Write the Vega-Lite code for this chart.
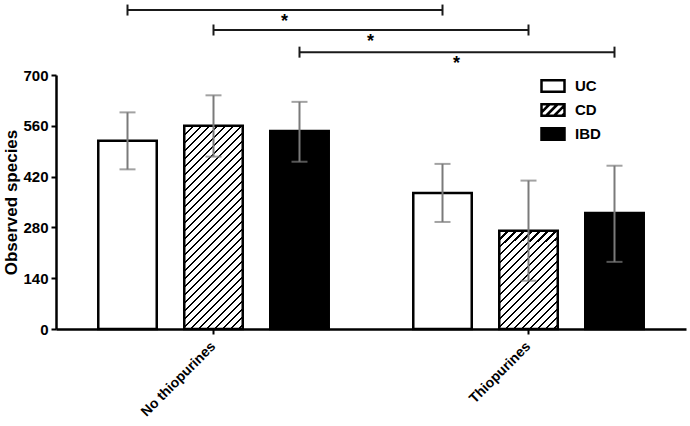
{
  "$schema": "https://vega.github.io/schema/vega-lite/v6.json",
  "autosize": {"type": "none"},
  "width": 630,
  "height": 254,
  "padding": {"left": 56, "top": 75, "right": 4, "bottom": 97},
  "background": "white",
  "config": {
    "view": {"stroke": null},
    "font": "Liberation Sans",
    "axis": {"grid": false, "domainColor": "black", "domainWidth": 2.5, "tickColor": "black", "tickWidth": 2, "tickSize": 5, "labelColor": "black", "labelFont": "Liberation Sans", "labelFontWeight": "bold", "titleFont": "Liberation Sans", "titleFontWeight": "bold", "titleColor": "black"},
    "legend": {"labelFont": "Liberation Sans", "labelFontWeight": "bold", "labelFontSize": 15, "labelColor": "black"}
  },
  "datasets": {
    "bars": [
      {"group": "No thiopurines", "sub": "UC", "value": 519, "lo": 440, "hi": 597},
      {"group": "No thiopurines", "sub": "CD", "value": 560, "lo": 475, "hi": 644},
      {"group": "No thiopurines", "sub": "IBD", "value": 546, "lo": 461, "hi": 626},
      {"group": "Thiopurines", "sub": "UC", "value": 375, "lo": 295, "hi": 455},
      {"group": "Thiopurines", "sub": "CD", "value": 271, "lo": 133, "hi": 409},
      {"group": "Thiopurines", "sub": "IBD", "value": 320, "lo": 185, "hi": 450}
    ],
    "sig": [
      {"comp": "UC", "group": "No thiopurines", "sub": "UC", "level": 879},
      {"comp": "UC", "group": "Thiopurines", "sub": "UC", "level": 879},
      {"comp": "CD", "group": "No thiopurines", "sub": "CD", "level": 824},
      {"comp": "CD", "group": "Thiopurines", "sub": "CD", "level": 824},
      {"comp": "IBD", "group": "No thiopurines", "sub": "IBD", "level": 763},
      {"comp": "IBD", "group": "Thiopurines", "sub": "IBD", "level": 763}
    ]
  },
  "layer": [
    {
      "data": {"name": "bars"},
      "mark": {"type": "bar", "stroke": "black", "strokeWidth": 2.5, "strokeJoin": "miter"},
      "encoding": {
        "x": {"field": "group", "type": "nominal", "sort": ["No thiopurines", "Thiopurines"],
              "scale": {"paddingInner": 0.181, "paddingOuter": 0.0905},
              "axis": {"title": null, "labelAngle": -45, "labelAlign": "right", "labelBaseline": "middle", "labelFontSize": 14, "labelPadding": 10}},
        "xOffset": {"field": "sub", "type": "nominal", "sort": ["UC", "CD", "IBD"],
              "scale": {"domain": ["UC", "CD", "IBD"], "paddingInner": 0.32, "paddingOuter": 0.16}},
        "y": {"field": "value", "type": "quantitative",
              "scale": {"domain": [0, 700], "nice": false},
              "axis": {"title": "Observed species", "values": [0, 140, 280, 420, 560, 700], "labelFontSize": 15, "titleFontSize": 17, "titlePadding": 2, "labelPadding": 3}},
        "fill": {"field": "sub", "type": "nominal",
          "scale": {"domain": ["UC", "CD", "IBD"], "range": ["white", "white", "black"]},
          "condition": [
            {"test": "datum.sub === 'CD' && datum.group === 'No thiopurines'", "value": {"gradient": "linear", "x1": 0, "y1": 0, "x2": 0.3423, "y2": 1.1893, "stops": [
              {"offset":0,"color":"#000"},{"offset":0.0083,"color":"#000"},{"offset":0.0083,"color":"#fff"},{"offset":0.0306,"color":"#fff"},
              {"offset":0.0306,"color":"#000"},{"offset":0.0388,"color":"#000"},{"offset":0.0388,"color":"#fff"},{"offset":0.0611,"color":"#fff"},
              {"offset":0.0611,"color":"#000"},{"offset":0.0694,"color":"#000"},{"offset":0.0694,"color":"#fff"},{"offset":0.0917,"color":"#fff"},
              {"offset":0.0917,"color":"#000"},{"offset":0.1000,"color":"#000"},{"offset":0.1000,"color":"#fff"},{"offset":0.1223,"color":"#fff"},
              {"offset":0.1223,"color":"#000"},{"offset":0.1305,"color":"#000"},{"offset":0.1305,"color":"#fff"},{"offset":0.1529,"color":"#fff"},
              {"offset":0.1529,"color":"#000"},{"offset":0.1611,"color":"#000"},{"offset":0.1611,"color":"#fff"},{"offset":0.1834,"color":"#fff"},
              {"offset":0.1834,"color":"#000"},{"offset":0.1917,"color":"#000"},{"offset":0.1917,"color":"#fff"},{"offset":0.2140,"color":"#fff"},
              {"offset":0.2140,"color":"#000"},{"offset":0.2223,"color":"#000"},{"offset":0.2223,"color":"#fff"},{"offset":0.2446,"color":"#fff"},
              {"offset":0.2446,"color":"#000"},{"offset":0.2528,"color":"#000"},{"offset":0.2528,"color":"#fff"},{"offset":0.2751,"color":"#fff"},
              {"offset":0.2751,"color":"#000"},{"offset":0.2834,"color":"#000"},{"offset":0.2834,"color":"#fff"},{"offset":0.3057,"color":"#fff"},
              {"offset":0.3057,"color":"#000"},{"offset":0.3140,"color":"#000"},{"offset":0.3140,"color":"#fff"},{"offset":0.3363,"color":"#fff"},
              {"offset":0.3363,"color":"#000"},{"offset":0.3446,"color":"#000"},{"offset":0.3446,"color":"#fff"},{"offset":0.3669,"color":"#fff"},
              {"offset":0.3669,"color":"#000"},{"offset":0.3751,"color":"#000"},{"offset":0.3751,"color":"#fff"},{"offset":0.3974,"color":"#fff"},
              {"offset":0.3974,"color":"#000"},{"offset":0.4057,"color":"#000"},{"offset":0.4057,"color":"#fff"},{"offset":0.4280,"color":"#fff"},
              {"offset":0.4280,"color":"#000"},{"offset":0.4363,"color":"#000"},{"offset":0.4363,"color":"#fff"},{"offset":0.4586,"color":"#fff"},
              {"offset":0.4586,"color":"#000"},{"offset":0.4668,"color":"#000"},{"offset":0.4668,"color":"#fff"},{"offset":0.4892,"color":"#fff"},
              {"offset":0.4892,"color":"#000"},{"offset":0.4974,"color":"#000"},{"offset":0.4974,"color":"#fff"},{"offset":0.5197,"color":"#fff"},
              {"offset":0.5197,"color":"#000"},{"offset":0.5280,"color":"#000"},{"offset":0.5280,"color":"#fff"},{"offset":0.5503,"color":"#fff"},
              {"offset":0.5503,"color":"#000"},{"offset":0.5586,"color":"#000"},{"offset":0.5586,"color":"#fff"},{"offset":0.5809,"color":"#fff"},
              {"offset":0.5809,"color":"#000"},{"offset":0.5891,"color":"#000"},{"offset":0.5891,"color":"#fff"},{"offset":0.6114,"color":"#fff"},
              {"offset":0.6114,"color":"#000"},{"offset":0.6197,"color":"#000"},{"offset":0.6197,"color":"#fff"},{"offset":0.6420,"color":"#fff"},
              {"offset":0.6420,"color":"#000"},{"offset":0.6503,"color":"#000"},{"offset":0.6503,"color":"#fff"},{"offset":0.6726,"color":"#fff"},
              {"offset":0.6726,"color":"#000"},{"offset":0.6808,"color":"#000"},{"offset":0.6808,"color":"#fff"},{"offset":0.7032,"color":"#fff"},
              {"offset":0.7032,"color":"#000"},{"offset":0.7114,"color":"#000"},{"offset":0.7114,"color":"#fff"},{"offset":0.7337,"color":"#fff"},
              {"offset":0.7337,"color":"#000"},{"offset":0.7420,"color":"#000"},{"offset":0.7420,"color":"#fff"},{"offset":0.7643,"color":"#fff"},
              {"offset":0.7643,"color":"#000"},{"offset":0.7726,"color":"#000"},{"offset":0.7726,"color":"#fff"},{"offset":0.7949,"color":"#fff"},
              {"offset":0.7949,"color":"#000"},{"offset":0.8031,"color":"#000"},{"offset":0.8031,"color":"#fff"},{"offset":0.8254,"color":"#fff"},
              {"offset":0.8254,"color":"#000"},{"offset":0.8337,"color":"#000"},{"offset":0.8337,"color":"#fff"},{"offset":0.8560,"color":"#fff"},
              {"offset":0.8560,"color":"#000"},{"offset":0.8643,"color":"#000"},{"offset":0.8643,"color":"#fff"},{"offset":0.8866,"color":"#fff"},
              {"offset":0.8866,"color":"#000"},{"offset":0.8949,"color":"#000"},{"offset":0.8949,"color":"#fff"},{"offset":0.9172,"color":"#fff"},
              {"offset":0.9172,"color":"#000"},{"offset":0.9254,"color":"#000"},{"offset":0.9254,"color":"#fff"},{"offset":0.9477,"color":"#fff"},
              {"offset":0.9477,"color":"#000"},{"offset":0.9560,"color":"#000"},{"offset":0.9560,"color":"#fff"},{"offset":0.9783,"color":"#fff"},
              {"offset":0.9783,"color":"#000"},{"offset":0.9866,"color":"#000"},{"offset":0.9866,"color":"#fff"},{"offset":1,"color":"#fff"}
            ]}},
            {"test": "datum.sub === 'CD' && datum.group === 'Thiopurines'", "value": {"gradient": "linear", "x1": 0, "y1": 0, "x2": 0.6962, "y2": 1.1793, "stops": [
              {"offset":0,"color":"#000"},{"offset":0.0137,"color":"#000"},{"offset":0.0137,"color":"#fff"},{"offset":0.0508,"color":"#fff"},
              {"offset":0.0508,"color":"#000"},{"offset":0.0645,"color":"#000"},{"offset":0.0645,"color":"#fff"},{"offset":0.1016,"color":"#fff"},
              {"offset":0.1016,"color":"#000"},{"offset":0.1153,"color":"#000"},{"offset":0.1153,"color":"#fff"},{"offset":0.1523,"color":"#fff"},
              {"offset":0.1523,"color":"#000"},{"offset":0.1660,"color":"#000"},{"offset":0.1660,"color":"#fff"},{"offset":0.2031,"color":"#fff"},
              {"offset":0.2031,"color":"#000"},{"offset":0.2168,"color":"#000"},{"offset":0.2168,"color":"#fff"},{"offset":0.2539,"color":"#fff"},
              {"offset":0.2539,"color":"#000"},{"offset":0.2676,"color":"#000"},{"offset":0.2676,"color":"#fff"},{"offset":0.3047,"color":"#fff"},
              {"offset":0.3047,"color":"#000"},{"offset":0.3184,"color":"#000"},{"offset":0.3184,"color":"#fff"},{"offset":0.3555,"color":"#fff"},
              {"offset":0.3555,"color":"#000"},{"offset":0.3692,"color":"#000"},{"offset":0.3692,"color":"#fff"},{"offset":0.4062,"color":"#fff"},
              {"offset":0.4062,"color":"#000"},{"offset":0.4199,"color":"#000"},{"offset":0.4199,"color":"#fff"},{"offset":0.4570,"color":"#fff"},
              {"offset":0.4570,"color":"#000"},{"offset":0.4707,"color":"#000"},{"offset":0.4707,"color":"#fff"},{"offset":0.5078,"color":"#fff"},
              {"offset":0.5078,"color":"#000"},{"offset":0.5215,"color":"#000"},{"offset":0.5215,"color":"#fff"},{"offset":0.5586,"color":"#fff"},
              {"offset":0.5586,"color":"#000"},{"offset":0.5723,"color":"#000"},{"offset":0.5723,"color":"#fff"},{"offset":0.6094,"color":"#fff"},
              {"offset":0.6094,"color":"#000"},{"offset":0.6231,"color":"#000"},{"offset":0.6231,"color":"#fff"},{"offset":0.6602,"color":"#fff"},
              {"offset":0.6602,"color":"#000"},{"offset":0.6739,"color":"#000"},{"offset":0.6739,"color":"#fff"},{"offset":0.7109,"color":"#fff"},
              {"offset":0.7109,"color":"#000"},{"offset":0.7246,"color":"#000"},{"offset":0.7246,"color":"#fff"},{"offset":0.7617,"color":"#fff"},
              {"offset":0.7617,"color":"#000"},{"offset":0.7754,"color":"#000"},{"offset":0.7754,"color":"#fff"},{"offset":0.8125,"color":"#fff"},
              {"offset":0.8125,"color":"#000"},{"offset":0.8262,"color":"#000"},{"offset":0.8262,"color":"#fff"},{"offset":0.8633,"color":"#fff"},
              {"offset":0.8633,"color":"#000"},{"offset":0.8770,"color":"#000"},{"offset":0.8770,"color":"#fff"},{"offset":0.9141,"color":"#fff"},
              {"offset":0.9141,"color":"#000"},{"offset":0.9278,"color":"#000"},{"offset":0.9278,"color":"#fff"},{"offset":0.9648,"color":"#fff"},
              {"offset":0.9648,"color":"#000"},{"offset":0.9785,"color":"#000"},{"offset":0.9785,"color":"#fff"},{"offset":1,"color":"#fff"}
            ]}}
          ],
          "legend": {
            "title": null, "orient": "none", "legendX": 484, "legendY": -2, "padding": 0,
            "symbolType": "M-1,-0.5H1V0.5H-1Z", "symbolSize": 529, "symbolStrokeWidth": 2.5, "symbolStrokeColor": "black", "symbolOpacity": 1,
            "labelOffset": 9, "rowPadding": 0
          }
        }
      }
    },
    {
      "data": {"name": "bars"},
      "transform": [{"filter": "false"}],
      "mark": {"type": "point", "filled": false, "color": "black", "strokeWidth": 2.5, "opacity": 1},
      "encoding": {
        "shape": {"field": "sub", "type": "nominal",
          "scale": {"domain": ["UC", "CD", "IBD"], "range": [
            "M-1,-0.5H1V0.5H-1Z",
            "M-1,-0.5H1V0.5H-1Z M-1,0.2L-0.3,-0.5 M-0.6,0.5L0.4,-0.5 M0.1,0.5L1,-0.4 M0.8,0.5L1,0.3",
            "M-1,-0.5H1V0.5H-1Z"]},
          "legend": {
            "title": null, "orient": "none", "legendX": 484, "legendY": -2, "padding": 0,
            "symbolSize": 529, "symbolStrokeWidth": 2.5, "symbolStrokeColor": "black", "symbolOpacity": 1,
            "labelOffset": 9, "rowPadding": 0
          }
        }
      }
    },
    {
      "data": {"name": "bars"},
      "mark": {"type": "rule", "color": "#7a7a7a", "strokeWidth": 2},
      "encoding": {
        "x": {"field": "group", "type": "nominal"},
        "xOffset": {"field": "sub", "type": "nominal"},
        "y": {"field": "lo", "type": "quantitative"},
        "y2": {"field": "hi"}
      }
    },
    {
      "data": {"name": "bars"},
      "mark": {"type": "tick", "color": "#7a7a7a", "size": 16, "thickness": 2},
      "encoding": {
        "x": {"field": "group", "type": "nominal"},
        "xOffset": {"field": "sub", "type": "nominal"},
        "y": {"field": "lo", "type": "quantitative"}
      }
    },
    {
      "data": {"name": "bars"},
      "mark": {"type": "tick", "color": "#7a7a7a", "size": 16, "thickness": 2},
      "encoding": {
        "x": {"field": "group", "type": "nominal"},
        "xOffset": {"field": "sub", "type": "nominal"},
        "y": {"field": "hi", "type": "quantitative"}
      }
    },
    {
      "data": {"name": "sig"},
      "mark": {"type": "line", "color": "#1a1a1a", "strokeWidth": 2},
      "encoding": {
        "x": {"field": "group", "type": "nominal"},
        "xOffset": {"field": "sub", "type": "nominal"},
        "y": {"field": "level", "type": "quantitative"},
        "detail": {"field": "comp"}
      }
    },
    {
      "data": {"name": "sig"},
      "mark": {"type": "point", "shape": "M0,-1V1", "size": 121, "filled": false, "stroke": "#1a1a1a", "strokeWidth": 2, "opacity": 1},
      "encoding": {
        "x": {"field": "group", "type": "nominal"},
        "xOffset": {"field": "sub", "type": "nominal"},
        "y": {"field": "level", "type": "quantitative"}
      }
    },
    {
      "data": {"name": "sig"},
      "transform": [{"filter": "datum.group === 'No thiopurines'"}],
      "mark": {"type": "text", "text": "*", "font": "Liberation Sans", "fontWeight": "bold", "fontSize": 18, "color": "black", "dx": 157, "dy": 17, "baseline": "alphabetic", "align": "center"},
      "encoding": {
        "x": {"field": "group", "type": "nominal"},
        "xOffset": {"field": "sub", "type": "nominal"},
        "y": {"field": "level", "type": "quantitative"}
      }
    }
  ]
}
